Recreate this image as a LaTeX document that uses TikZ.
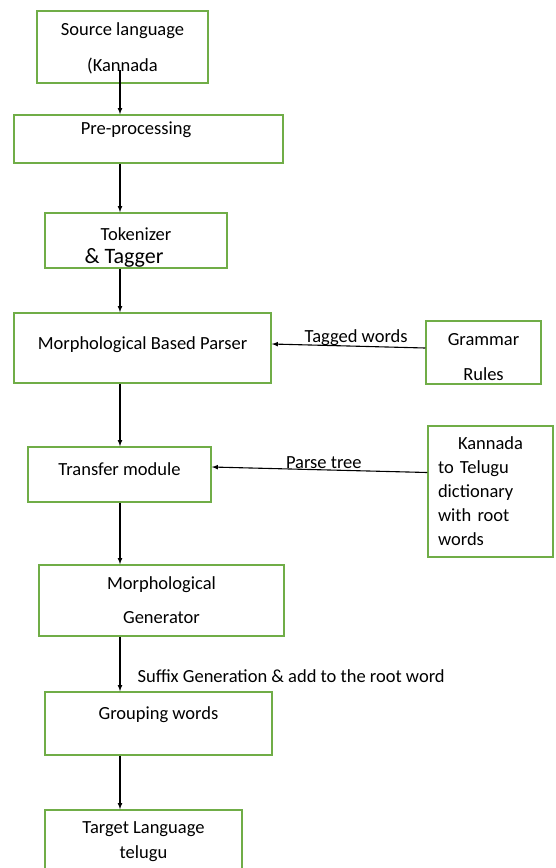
\documentclass[tikz,border=0pt]{standalone}
\usepackage{fontspec}
\setmainfont{Carlito}
\usepackage{tikz}
\usetikzlibrary{arrows,positioning}
\definecolor{boxgreen}{RGB}{112,173,71}
\tikzset{
  basic/.style  = {draw=boxgreen, line width=1.5pt, rectangle, inner sep=0pt,
                   font=\fontsize{18.5}{22}\selectfont},
  block/.style  = {basic, align=center},
  notes/.style  = {basic, align=left, text width=105pt},
  lift/.style 2 args = {text height=#1, text depth=#2},
  flow/.style   = {->, line width=1.1pt},
  tag/.style    = {font=\fontsize{18.5}{22}\selectfont, inner sep=0pt}
}

\begin{document}
\begin{tikzpicture}[x=1pt,y=-1pt,>=latex]
\useasboundingbox (0,0) rectangle (555,868);

% main pipeline on the left, resources on the right
\node[block, lift={52pt}{4pt}, minimum width=171pt, minimum height=72pt] (src) at (122.5,47)
  {Source language\\[14pt](Kannada};
\node[block, lift={12pt}{22pt}, minimum width=269pt, minimum height=48pt] (prep) at (148.5,139)
  {Pre-processing\rule{25pt}{0pt}};
\node[block, lift={49pt}{4pt}, minimum width=182pt, minimum height=55pt] (tok) at (136,240.5)
  {Tokenizer\\[1pt]{\fontsize{22}{26}\selectfont\& Tagger}\rule{24pt}{0pt}};
\node[block, lift={13pt}{11pt}, minimum width=257pt, minimum height=70pt] (parser) at (142.5,348)
  {Morphological Based Parser};
\node[block, lift={13pt}{12pt}, minimum width=183pt, minimum height=55pt] (transfer) at (119.5,474.5)
  {Transfer module};
\node[block, lift={49pt}{4pt}, minimum width=245pt, minimum height=71pt] (gen) at (161.5,600.5)
  {Morphological\\[12pt]Generator};
\node[block, lift={12pt}{21pt}, minimum width=227pt, minimum height=63pt] (group) at (158.5,723.5)
  {Grouping words};
\node[block, lift={36pt}{4pt}, minimum width=197pt, minimum height=64pt] (target) at (143.5,842)
  {Target Language\\[3pt]telugu};

\node[block, lift={59pt}{4pt}, minimum width=115pt, minimum height=61pt] (grammar) at (483.5,352.5)
  {Grammar\\[13pt]Rules};
\node[notes, lift={12pt}{97pt}, minimum width=125pt, minimum height=131pt] (dict) at (490.5,491.5)
  {\hspace*{20pt}Kannada\\[2pt]to Telugu\\[2pt]dictionary\\[2pt]with root\\[2pt]words};

\coordinate (spine) at (120,0);

\draw[flow] ([yshift=14pt]src.south -| spine) -- (prep.north -| spine);
\draw[flow] (prep.south -| spine) -- (tok.north -| spine);
\draw[flow] (tok.south -| spine) -- (parser.north -| spine);
\draw[flow] (parser.south -| spine) -- (transfer.north -| spine);
\draw[flow] (transfer.south -| spine) -- (gen.north -| spine);
\draw[flow] (gen.south -| spine) -- (group.north -| spine)
  node[tag, pos=0.84, anchor=base west, xshift=17pt] (suffix) {Suffix Generation \& add to the root word};
\draw[flow] (group.south -| spine) -- (target.north -| spine);

\draw[flow] ([yshift=4.5pt]grammar.west) -- ([yshift=4pt]parser.east)
  node[tag, pos=0.45, above] (tagged) {Tagged words};
\draw[flow] ([yshift=19pt]dict.west) -- ([yshift=7.5pt]transfer.east)
  node[tag, pos=0.48, above, inner sep=1pt] (ptree) {Parse tree};

\end{tikzpicture}
\end{document}
